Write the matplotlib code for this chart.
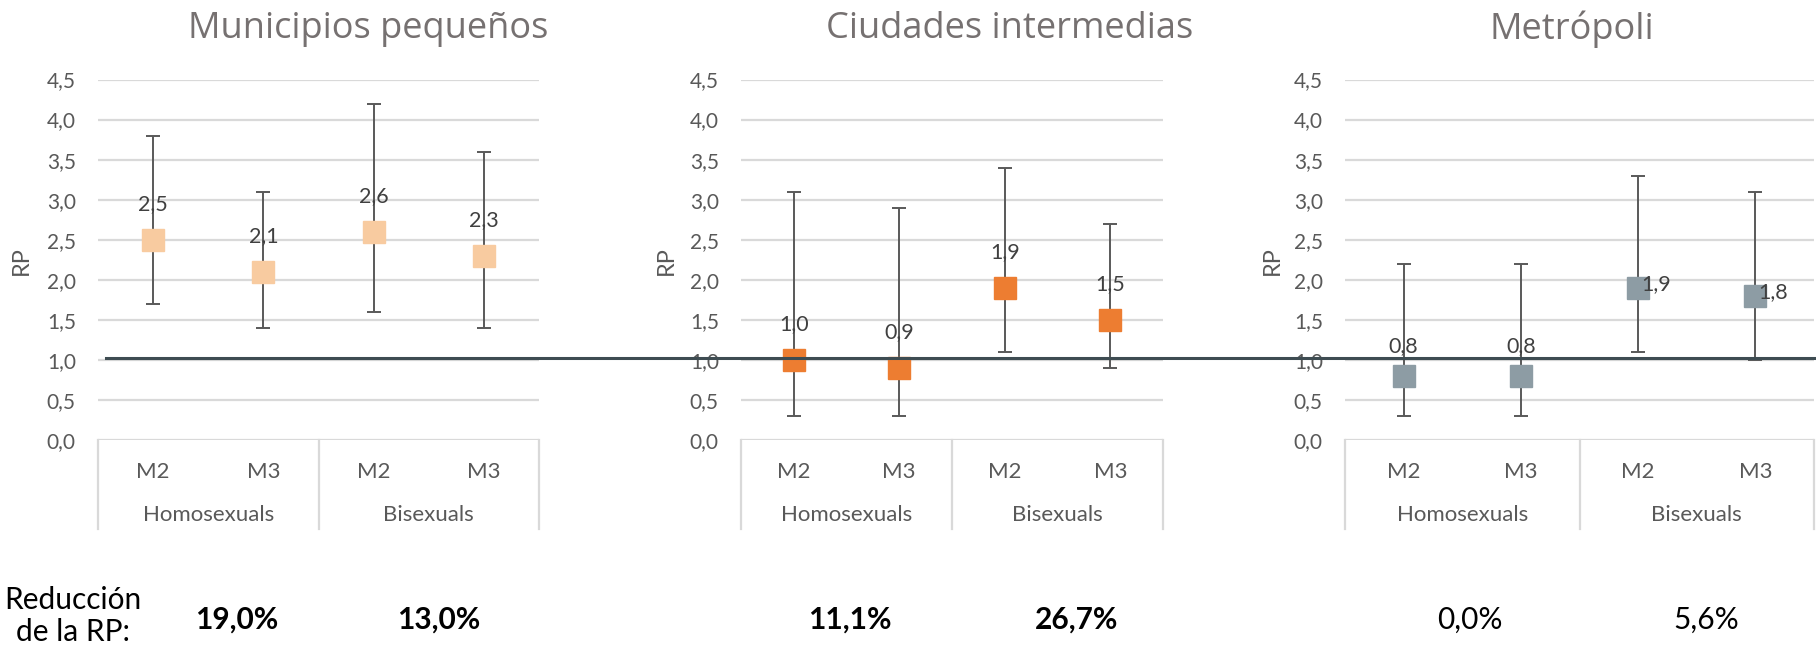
import matplotlib.pyplot as plt
import matplotlib.transforms as mtransforms
from matplotlib.lines import Line2D
from matplotlib.ticker import FuncFormatter

# datos
titles = ["Municipios pequeños", "Ciudades intermedias", "Metrópoli"]
models = ["M2", "M3", "M2", "M3"]
groups = ["Homosexuals", "Bisexuals"]

rp_small = [2.5, 2.1, 2.6, 2.3]
lo_small = [1.7, 1.4, 1.6, 1.4]
hi_small = [3.8, 3.1, 4.2, 3.6]

rp_mid = [1.0, 0.9, 1.9, 1.5]
lo_mid = [0.3, 0.3, 1.1, 0.9]
hi_mid = [3.1, 2.9, 3.4, 2.7]

rp_metro = [0.8, 0.8, 1.9, 1.8]
lo_metro = [0.3, 0.3, 1.1, 1.0]
hi_metro = [2.2, 2.2, 3.3, 3.1]

reduction_small = ["19,0%", "13,0%"]
reduction_mid = ["11,1%", "26,7%"]
reduction_metro = ["0,0%", "5,6%"]

W, H = 1816, 648


def comma(v):
    return f"{v:.1f}".replace(".", ",")


fig = plt.figure(figsize=(W / 100, H / 100), dpi=100)

# posiciones en pixeles: (izq, der)
panel_px = [(98, 539), (741, 1163), (1345, 1814)]
top_px, bot_px = 79.5, 440
colors = ["#F8CBA0", "#ED7D31", "#8D9CA4"]
title_x = [368, 1010, 1572]
rp_x = [21, 666, 1272]
red_x = [(237, 439), (850, 1077), (1470, 1706)]
red_bold = [True, True, False]

series = [
    (rp_small, lo_small, hi_small, reduction_small),
    (rp_mid, lo_mid, hi_mid, reduction_mid),
    (rp_metro, lo_metro, hi_metro, reduction_metro),
]

tick_font = "Lato"
axes = []
for i, (vals, lo, hi, red) in enumerate(series):
    x0, x1 = panel_px[i]
    ax = fig.add_axes([x0 / W, (H - bot_px) / H, (x1 - x0) / W, (bot_px - top_px) / H])
    axes.append(ax)
    x = list(range(len(vals)))
    yerr = [[v - l for v, l in zip(vals, lo)], [h - v for v, h in zip(vals, hi)]]
    ax.errorbar(x, vals, yerr=yerr, fmt="none", ecolor="#595959",
                elinewidth=1.4, capsize=5, capthick=1.4, zorder=2)
    ax.plot(x, vals, "s", ms=15.5, color=colors[i], zorder=3)

    for j, v in enumerate(vals):
        if i == 2 and j >= 2:
            ax.annotate(comma(v), (x[j], v), xytext=(2, 3), textcoords="offset points",
                        ha="left", va="center", fontsize=15.5, color="#404040",
                        family=tick_font, zorder=4)
        else:
            off = 21.5 if i == 2 else 26
            ax.annotate(comma(v), (x[j], v), xytext=(0, off), textcoords="offset points",
                        ha="center", va="center", fontsize=15.5, color="#404040",
                        family=tick_font, zorder=4)

    ax.set_xlim(-0.5, 3.5)
    ax.set_ylim(0, 4.5)
    ax.set_yticks([k * 0.5 for k in range(10)])
    ax.yaxis.set_major_formatter(FuncFormatter(lambda v, p: comma(v)))
    ax.tick_params(axis="y", length=0, pad=16, labelsize=15, labelcolor="#595959")
    for lab in ax.get_yticklabels():
        lab.set_family(tick_font)
    ax.set_xticks([])
    ax.yaxis.grid(True, color="#D9D9D9", lw=1.6)
    ax.set_axisbelow(True)
    for s in ax.spines.values():
        s.set_visible(False)

    # caja de categorias bajo el eje
    trans = mtransforms.blended_transform_factory(ax.transData, ax.transAxes)
    for xb in [-0.5, 1.5, 3.5]:
        ax.plot([xb, xb], [0, -0.247], color="#D9D9D9", lw=1.6, transform=trans, clip_on=False)
    for j, m in enumerate(models):
        ax.text(x[j], -0.088, m, transform=trans, ha="center", va="center",
                fontsize=16, color="#595959", family=tick_font)
    for g, gx in zip(groups, [0.5, 2.5]):
        ax.text(gx, -0.208, g, transform=trans, ha="center", va="center",
                fontsize=16, color="#595959", family=tick_font)

    fig.text(title_x[i] / W, 1 - 29 / H, titles[i], ha="center", va="center",
             fontsize=26, color="#767171", family="Open Sans")
    fig.text(rp_x[i] / W, 1 - 261 / H, "RP", rotation=90, ha="center", va="center",
             fontsize=17, color="#595959", family=tick_font)

    for k, r in enumerate(red):
        fig.text(red_x[i][k] / W, 1 - 620 / H, r, ha="center", va="center", fontsize=21.5,
                 fontweight="bold" if red_bold[i] else "normal", color="black",
                 family=tick_font)

fig.text(73 / W, 1 - 616 / H, "Reducción\nde la RP:", ha="center", va="center",
         fontsize=21.5, color="black", family=tick_font, linespacing=1.15)

# linea de referencia en RP = 1 que cruza los tres paneles
ref = Line2D([106 / W, 1.0], [1.025, 1.025], color="#3E4C52", lw=2.2,
             transform=mtransforms.blended_transform_factory(fig.transFigure, axes[0].transData))
fig.add_artist(ref)

fig.savefig("out.png", dpi=100)
